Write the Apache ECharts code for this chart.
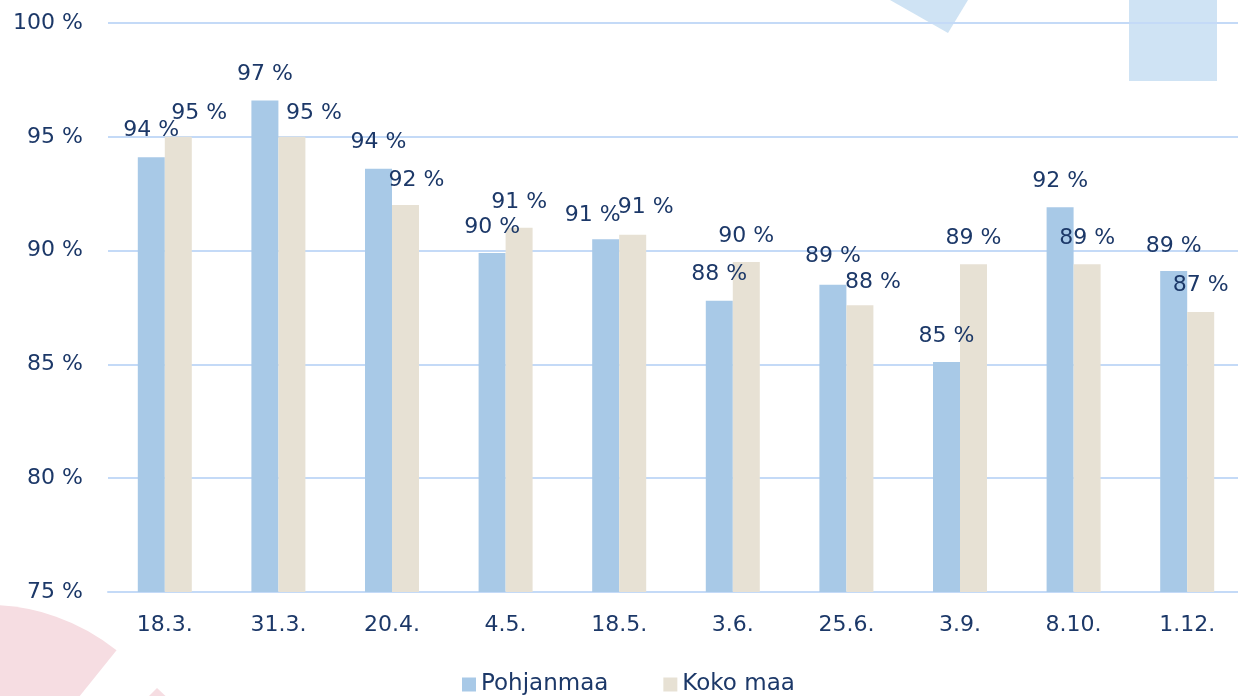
<!DOCTYPE html>
<html>
<head>
<meta charset="utf-8">
<script src="https://cdn.jsdelivr.net/npm/echarts@6/dist/echarts.min.js"></script>
<style>
html,body{margin:0;padding:0;background:#fff;overflow:hidden;width:1238px;height:696px;}
#c{width:1244px;height:696px;}
</style>
</head>
<body>
<div id="c"></div>
<script>
const categories = ['18.3.', '31.3.', '20.4.', '4.5.', '18.5.', '3.6.', '25.6.', '3.9.', '8.10.', '1.12.'];
const pohjanmaa = [94.1, 96.6, 93.6, 89.9, 90.5, 87.8, 88.5, 85.1, 91.9, 89.1];
const kokoMaa = [95.0, 95.0, 92.0, 91.0, 90.7, 89.5, 87.6, 89.4, 89.4, 87.3];
const yTicks = [75, 80, 85, 90, 95, 100];

// label nudges (layout only)
const pShift = [[0,-1],[0,0],[0,0],[0,0],[-13,2],[0,0],[0,-2],[0,0],[0,0],[0,1]];
const kShift = [[21,2],[22,2],[11,1],[0,0],[13,-1],[0,0],[13,3],[0,0],[0,0],[0,-1]];

const navy = '#1c3868';
const font = 'DejaVu Sans';
const fs = 22;

function items(vals, shifts) {
  return vals.map((v, i) => ({ value: v, label: { offset: shifts[i] } }));
}

const chart = echarts.init(document.getElementById('c'), null, { renderer: 'canvas' });
chart.setOption({
  animation: false,
  backgroundColor: '#ffffff',
  textStyle: { fontFamily: font },
  graphic: [
    { type: 'sector', z: -10, silent: true,
      shape: { cx: -12, cy: 810, r: 205, r0: 0, startAngle: -Math.PI, endAngle: -0.893 },
      style: { fill: '#f6dde2' } },
    { type: 'polygon', z: -10, silent: true,
      shape: { points: [[157, 688], [140, 705], [175, 705]] },
      style: { fill: '#f6dde2' } },
    { type: 'polygon', z: -10, silent: true,
      shape: { points: [[890, 0], [968, 0], [948, 33]] },
      style: { fill: '#cfe3f4' } },
    { type: 'rect', z: -10, silent: true,
      shape: { x: 1129, y: 0, width: 88, height: 81 },
      style: { fill: '#cfe3f4' } }
  ],
  grid: { left: 108, right: 0, top: 23, bottom: 104, containLabel: false },
  legend: {
    left: 462, top: 673, padding: 0,
    itemWidth: 14, itemHeight: 14, itemGap: 55,
    icon: 'rect',
    textStyle: { color: navy, fontSize: 23, fontFamily: font },
    data: ['Pohjanmaa', 'Koko maa']
  },
  xAxis: {
    type: 'category',
    data: categories,
    axisLine: { show: true, lineStyle: { color: '#c4daf7', width: 2 } },
    axisTick: { show: false },
    axisLabel: { color: navy, fontSize: fs, fontFamily: font, margin: 22 }
  },
  yAxis: {
    type: 'value',
    min: yTicks[0], max: yTicks[yTicks.length - 1], interval: 5,
    axisLine: { show: false },
    axisTick: { show: false },
    splitLine: { lineStyle: { color: '#c4daf7', width: 2 } },
    axisLabel: { color: navy, fontSize: fs, fontFamily: font, margin: 25,
      formatter: v => v + ' %' }
  },
  series: [
    {
      name: 'Pohjanmaa', type: 'bar', barWidth: 27, barGap: '0%',
      itemStyle: { color: '#a8c9e7' },
      label: { show: true, position: 'top', distance: 15, color: navy, fontSize: fs, fontFamily: font,
        formatter: p => Math.round(p.value) + ' %' },
      data: items(pohjanmaa, pShift)
    },
    {
      name: 'Koko maa', type: 'bar', barWidth: 27, barGap: '0%',
      itemStyle: { color: '#e7e1d4' },
      label: { show: true, position: 'top', distance: 15, color: navy, fontSize: fs, fontFamily: font,
        formatter: p => Math.round(p.value) + ' %' },
      data: items(kokoMaa, kShift)
    }
  ]
});
</script>
</body>
</html>
